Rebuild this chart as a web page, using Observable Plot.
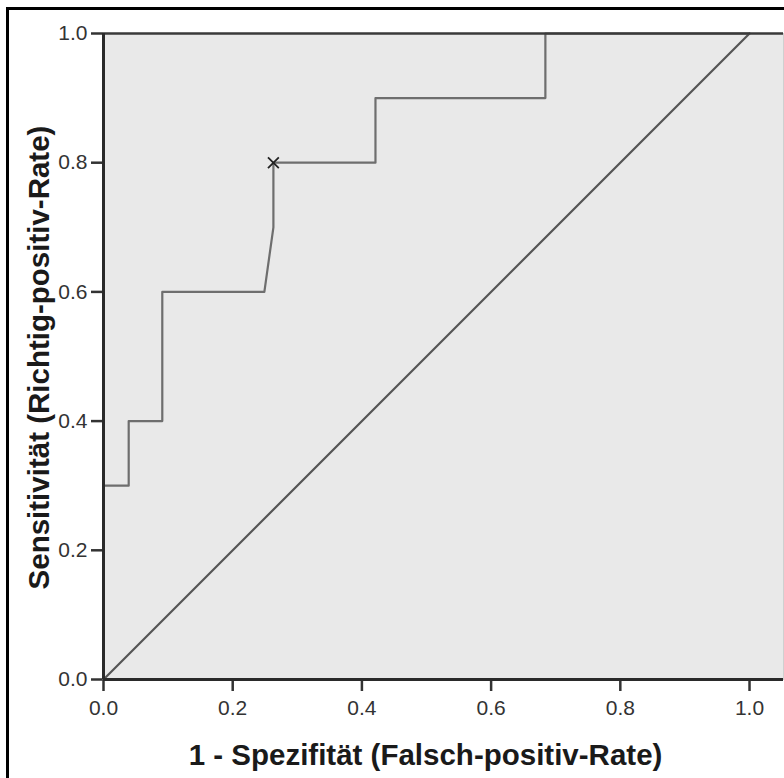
<!DOCTYPE html>
<html>
<head>
<meta charset="utf-8">
<script src="https://cdn.jsdelivr.net/npm/d3@7"></script>
<script src="https://cdn.jsdelivr.net/npm/@observablehq/plot@0.6"></script>
<style>
  html, body { margin: 0; padding: 0; background: #fff; overflow: hidden; }
  #wrap { position: relative; width: 784px; height: 778px; }
  #border { position: absolute; left: 6px; top: 7px; width: 900px; height: 900px;
            border-left: 3px solid #000; border-top: 3px solid #000; box-sizing: border-box; pointer-events: none; }
  #chart { position: absolute; left: 0; top: 0; }
</style>
</head>
<body>
<div id="wrap"><div id="chart"></div><div id="border"></div></div>
<script>
// ROC curve (1 - specificity, sensitivity)
const fpr = [0, 0, 0.039, 0.039, 0.091, 0.091, 0.249, 0.263, 0.263, 0.421, 0.421, 0.684, 0.684, 1];
const tpr = [0, 0.3, 0.3, 0.4, 0.4, 0.6, 0.6, 0.7, 0.8, 0.8, 0.9, 0.9, 1, 1];
// reference diagonal
const diagX = [0, 1];
const diagY = [0, 1];
// optimal cut-off marker
const cutX = [0.263];
const cutY = [0.8];
const ticks = [0, 0.2, 0.4, 0.6, 0.8, 1.0];
const xTitle = "1 - Spezifität (Falsch-positiv-Rate)";
const yTitle = "Sensitivität (Richtig-positiv-Rate)";

const roc = fpr.map((x, i) => ({x, y: tpr[i]}));
const diag = diagX.map((x, i) => ({x, y: diagY[i]}));
const cut = cutX.map((x, i) => ({x, y: cutY[i]}));

const chart = Plot.plot({
  width: 784,
  height: 778,
  marginLeft: 103,
  marginTop: 33,
  marginRight: 1,
  marginBottom: 99,
  style: {fontFamily: "Liberation Sans, Arial, sans-serif", background: "transparent"},
  x: {domain: [0, 1.0526], label: null},
  y: {domain: [0, 1], label: null},
  marks: [
    Plot.frame({fill: "#e9e9e9", stroke: "#d0d0d0"}),
    Plot.axisX(ticks, {tickSize: 12, tickPadding: 9, tickFormat: d3.format(".1f"), fontSize: 21, color: "#333", strokeWidth: 2.5, stroke: "#333"}),
    Plot.axisY(ticks, {tickSize: 12, tickPadding: 4, tickFormat: d3.format(".1f"), fontSize: 21, color: "#333", strokeWidth: 2.5, stroke: "#333"}),
    Plot.line(diag, {x: "x", y: "y", stroke: "#555", strokeWidth: 2.2}),
    Plot.line(roc, {x: "x", y: "y", stroke: "#6e6e6e", strokeWidth: 2.2}),
    Plot.ruleY([1], {stroke: "#3a3a3a", strokeWidth: 2.5}),
    Plot.ruleX([0], {stroke: "#2a2a2a", strokeWidth: 3}),
    Plot.ruleY([0], {stroke: "#2a2a2a", strokeWidth: 3}),
    Plot.dot(cut, {x: "x", y: "y", symbol: "times", r: 5, stroke: "#222", strokeWidth: 1.8}),
    Plot.text([xTitle], {frameAnchor: "bottom", textAnchor: "middle", lineAnchor: "middle", dy: 76.5, dx: -18, fontSize: 29.5, fontWeight: "bold", fill: "#1a1a1a"}),
    Plot.text([yTitle], {frameAnchor: "left", textAnchor: "middle", lineAnchor: "middle", dx: -64, dy: 1, rotate: -90, fontSize: 29.5, fontWeight: "bold", fill: "#1a1a1a"})
  ]
});
document.getElementById("chart").appendChild(chart);
</script>
</body>
</html>
